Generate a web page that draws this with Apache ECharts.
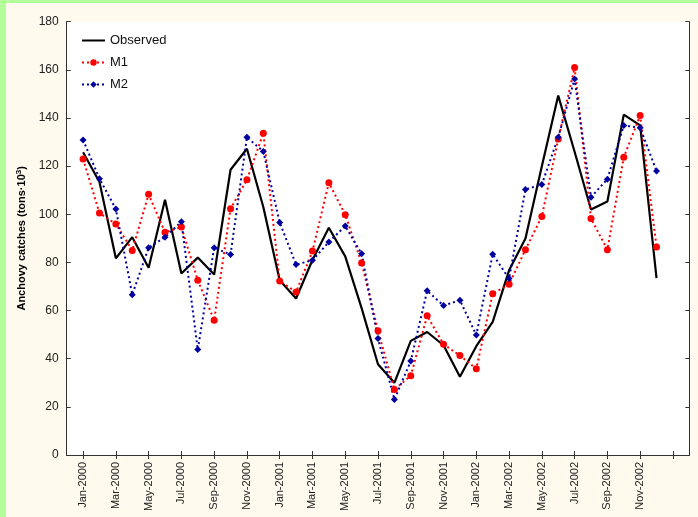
<!DOCTYPE html>
<html>
<head>
<meta charset="utf-8">
<script src="https://cdn.jsdelivr.net/npm/echarts@6/dist/echarts.min.js"></script>
<style>
  html, body { margin: 0; padding: 0; background: #fff9ee; }
  #chart { width: 698px; height: 517px; }
</style>
</head>
<body>
<div id="chart"></div>
<script>
// monthly anchovy catches, Jan-2000 .. Dec-2002
const months = [
    'Jan-2000', 'Feb-2000', 'Mar-2000', 'Apr-2000', 'May-2000', 'Jun-2000',
    'Jul-2000', 'Aug-2000', 'Sep-2000', 'Oct-2000', 'Nov-2000', 'Dec-2000',
    'Jan-2001', 'Feb-2001', 'Mar-2001', 'Apr-2001', 'May-2001', 'Jun-2001',
    'Jul-2001', 'Aug-2001', 'Sep-2001', 'Oct-2001', 'Nov-2001', 'Dec-2001',
    'Jan-2002', 'Feb-2002', 'Mar-2002', 'Apr-2002', 'May-2002', 'Jun-2002',
    'Jul-2002', 'Aug-2002', 'Sep-2002', 'Oct-2002', 'Nov-2002', 'Dec-2002'
];
const observed = [
    125.8, 113.4, 81.7, 90.5, 77.8, 106.0, 75.4, 82.0, 75.0, 118.5, 127.2, 103.0,
    72.6, 65.0, 81.0, 94.4, 82.5, 61.0, 37.7, 30.0, 47.4, 51.1, 45.6, 32.5,
    45.2, 55.3, 76.7, 89.9, 120.0, 149.3, 126.0, 102.0, 105.3, 141.4, 136.9, 73.5
];
const m1 = [
    123.0, 100.5, 96.0, 85.0, 108.3, 92.5, 94.7, 72.6, 56.0, 102.3, 114.3, 133.7,
    72.3, 67.7, 84.7, 113.1, 99.8, 79.8, 51.6, 27.2, 32.9, 57.8, 46.0, 41.3,
    35.8, 67.0, 70.9, 85.3, 99.1, 131.3, 161.0, 98.2, 85.3, 123.7, 141.0, 86.4
];
const m2 = [
    130.9, 114.8, 102.2, 66.6, 86.1, 90.5, 96.9, 43.8, 86.1, 83.3, 132.0, 126.1,
    96.6, 79.1, 80.9, 88.5, 95.1, 83.6, 48.4, 23.1, 39.0, 68.2, 62.1, 64.3,
    49.8, 83.4, 73.3, 110.3, 112.4, 132.0, 156.2, 107.1, 114.6, 136.9, 135.9, 118.0
];
const yTicks = [0, 20, 40, 60, 80, 100, 120, 140, 160, 180];

// one empty slot before Jan-2000, Jan-2003 tick and one empty slot after
const cats = [''].concat(months, ['Jan-2003', '']);
const tickAt = (i) => i >= 1 && i <= 37 && (i - 1) % 2 === 0;
const labelAt = (i) => i >= 1 && i <= 36 && (i - 1) % 2 === 0;

const axisColor = '#333';
const pairs = (vals) => vals.map((v, i) => [months[i], v]);

const chart = echarts.init(document.getElementById('chart'));

const baseX = {
    type: 'category',
    data: cats,
    boundaryGap: false,
    axisLine: { lineStyle: { color: axisColor, width: 1 } },
    axisTick: { inside: true, length: 4, interval: (i) => tickAt(i), lineStyle: { color: axisColor } },
    splitLine: { show: false }
};
const baseY = {
    type: 'value',
    min: yTicks[0],
    max: yTicks[yTicks.length - 1],
    interval: 20,
    axisLine: { show: true, lineStyle: { color: axisColor, width: 1 } },
    axisTick: { show: true, inside: true, length: 4, lineStyle: { color: axisColor } },
    splitLine: { show: false }
};

chart.setOption({
    backgroundColor: '#fff9ee',
    animation: false,
    textStyle: { fontFamily: 'Liberation Sans, Arial, sans-serif' },
    graphic: [
        { type: 'rect', left: 0, top: 0, shape: { width: 6, height: 517 }, style: { fill: '#b3ff99' } },
        { type: 'rect', left: 0, top: 0, shape: { width: 698, height: 3 }, style: { fill: '#b3ff99' } },
        { type: 'rect', left: 66.7, top: 21.7, z: -1, shape: { width: 622.6, height: 433.3 }, style: { fill: '#ffffff' } }
    ],
    grid: { left: 66.7, top: 21.7, right: 8.7, bottom: 62, containLabel: false },
    legend: {
        orient: 'vertical',
        left: 76,
        top: 29,
        itemWidth: 23,
        itemHeight: 8,
        itemGap: 9,
        textStyle: { fontSize: 13, color: '#111' },
        data: [
            { name: 'Observed', itemStyle: { opacity: 0 } },
            'M1',
            'M2'
        ]
    },
    xAxis: [
        Object.assign({}, baseX, {
            position: 'bottom',
            axisLabel: {
                interval: (i) => labelAt(i),
                rotate: 90,
                fontSize: 11,
                color: '#222',
                margin: 7
            }
        }),
        Object.assign({}, baseX, { position: 'top', axisLabel: { show: false } })
    ],
    yAxis: [
        Object.assign({}, baseY, {
            position: 'left',
            name: '{a|Anchovy catches (tons·10}{s|3}{a|)}',
            nameLocation: 'middle',
            nameGap: 36,
            nameTextStyle: {
                rich: {
                    a: { fontSize: 11, fontWeight: 'bold', color: '#000' },
                    s: { fontSize: 8, fontWeight: 'bold', color: '#000', verticalAlign: 'top', padding: [0, 0, 6, 0] }
                }
            },
            axisLabel: { fontSize: 12, color: '#222', margin: 8 }
        }),
        Object.assign({}, baseY, { position: 'right', axisLabel: { show: false } })
    ],
    series: [
        {
            name: 'Observed',
            type: 'line',
            data: pairs(observed),
            showSymbol: false,
            symbol: 'none',
            lineStyle: { color: '#000', width: 2.2 },
            itemStyle: { color: '#000' }
        },
        {
            name: 'M1',
            type: 'line',
            data: pairs(m1),
            symbol: 'circle',
            symbolSize: 7,
            lineStyle: { color: '#ff0000', width: 2, type: [2, 3] },
            itemStyle: { color: '#ff0000' }
        },
        {
            name: 'M2',
            type: 'line',
            data: pairs(m2),
            symbol: 'diamond',
            symbolSize: 7,
            lineStyle: { color: '#0000a0', width: 2, type: [2, 3] },
            itemStyle: { color: '#0000a0' }
        }
    ]
});
</script>
</body>
</html>
